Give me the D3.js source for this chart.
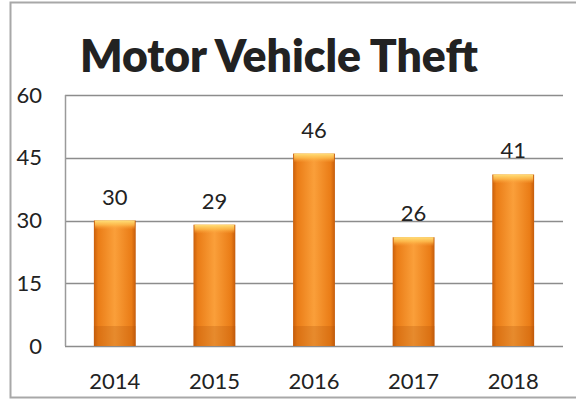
<!DOCTYPE html>
<html>
<head>
<meta charset="utf-8">
<script src="https://cdn.jsdelivr.net/npm/d3@7"></script>
<style>
  html, body { margin: 0; padding: 0; background: #fff; }
  svg { display: block; }
  text { font-family: Lato, "Open Sans", sans-serif; fill: #222; }
</style>
</head>
<body>
<svg id="chart" width="576" height="400"></svg>
<script>
// Motor vehicle theft counts by year
const years = ["2014", "2015", "2016", "2017", "2018"];
const thefts = [30, 29, 46, 26, 41];
const yTicks = [0, 15, 30, 45, 60];
const title = "Motor Vehicle Theft";

const svg = d3.select("#chart");
const plot = { left: 65, right: 563, top: 95, bottom: 346 };
const labelSize = 22;

// Outer frame of the chart area
svg.append("rect")
  .attr("x", 10.5).attr("y", 2.5)
  .attr("width", 580).attr("height", 395)
  .attr("fill", "#fff")
  .attr("stroke", "#a8a8a8").attr("stroke-width", 2);

const x = d3.scaleBand()
  .domain(years)
  .range([plot.left, plot.right])
  .paddingInner(0.58)
  .paddingOuter(0.29);

const y = d3.scaleLinear()
  .domain([0, 60])
  .range([plot.bottom, plot.top]);

// Bar fill: darker edges, brighter middle
const defs = svg.append("defs");
const hGrad = defs.append("linearGradient").attr("id", "barH")
  .attr("x1", "0").attr("x2", "1").attr("y1", "0").attr("y2", "0");
[[0, "#c95f0c"], [0.1, "#ea7c16"], [0.5, "#fa9f3a"], [0.9, "#ea7c16"], [1, "#c45c0c"]]
  .forEach(([o, c]) => hGrad.append("stop").attr("offset", o).attr("stop-color", c));

const capGrad = defs.append("linearGradient").attr("id", "barCap")
  .attr("x1", "0").attr("x2", "0").attr("y1", "0").attr("y2", "1");
[[0, "#ffe07a", 1], [0.5, "#ffbf50", 0.8], [1, "#fa9f3a", 0]]
  .forEach(([o, c, a]) => capGrad.append("stop").attr("offset", o).attr("stop-color", c).attr("stop-opacity", a));

// Gridlines
svg.append("g")
  .selectAll("line")
  .data(yTicks)
  .join("line")
  .attr("x1", plot.left).attr("x2", plot.right)
  .attr("y1", d => Math.round(y(d)) + 0.5)
  .attr("y2", d => Math.round(y(d)) + 0.5)
  .attr("stroke", "#8c8c8c").attr("stroke-width", 1.5);

// Left axis line
svg.append("line")
  .attr("x1", plot.left + 0.5).attr("x2", plot.left + 0.5)
  .attr("y1", plot.top).attr("y2", plot.bottom)
  .attr("stroke", "#9a9a9a").attr("stroke-width", 1.5);

// Y axis labels
const yAxis = d3.axisLeft(y).tickValues(yTicks).tickSize(0).tickPadding(0);
const gy = svg.append("g")
  .attr("transform", `translate(${plot.left - 23},0)`)
  .call(yAxis);
gy.select(".domain").remove();
gy.selectAll("text")
  .attr("font-size", labelSize)
  .attr("font-family", "Lato, 'Open Sans', sans-serif")
  .attr("fill", "#222");

// X axis labels
const xAxis = d3.axisBottom(x).tickSize(0).tickPadding(0);
const gx = svg.append("g")
  .attr("transform", `translate(0,${plot.bottom + 27})`)
  .call(xAxis);
gx.select(".domain").remove();
gx.selectAll("text")
  .attr("font-size", labelSize)
  .attr("font-family", "Lato, 'Open Sans', sans-serif")
  .attr("fill", "#222");

// Bars
const bars = svg.append("g");
const data = years.map((yr, i) => ({ year: yr, value: thefts[i] }));

bars.selectAll("rect.bar")
  .data(data)
  .join("rect")
  .attr("class", "bar")
  .attr("x", d => x(d.year))
  .attr("y", d => y(d.value))
  .attr("width", x.bandwidth())
  .attr("height", d => y(0) - y(d.value))
  .attr("fill", "url(#barH)");

// Bright cap on top of each bar
bars.selectAll("rect.cap")
  .data(data)
  .join("rect")
  .attr("class", "cap")
  .attr("x", d => x(d.year) + 1)
  .attr("y", d => y(d.value))
  .attr("width", x.bandwidth() - 2)
  .attr("height", 9)
  .attr("fill", "url(#barCap)");

// Darker base band at the foot of each bar
bars.selectAll("rect.base")
  .data(data)
  .join("rect")
  .attr("class", "base")
  .attr("x", d => x(d.year))
  .attr("y", y(0) - 20)
  .attr("width", x.bandwidth())
  .attr("height", 20)
  .attr("fill", "#b04e08")
  .attr("opacity", 0.25);

// Value labels
svg.append("g")
  .selectAll("text")
  .data(data)
  .join("text")
  .attr("x", d => x(d.year) + x.bandwidth() / 2)
  .attr("y", d => y(d.value) - 16)
  .attr("text-anchor", "middle")
  .attr("font-size", labelSize)
  .text(d => d.value);

// Title, sized to span its box
const t = svg.append("text")
  .attr("x", 80)
  .attr("y", 72)
  .attr("font-weight", 800)
  .attr("font-size", 40)
  .attr("fill", "#000")
  .text(title);
const len = t.node().getComputedTextLength();
t.attr("font-size", 40 * 398 / len);
</script>
</body>
</html>
